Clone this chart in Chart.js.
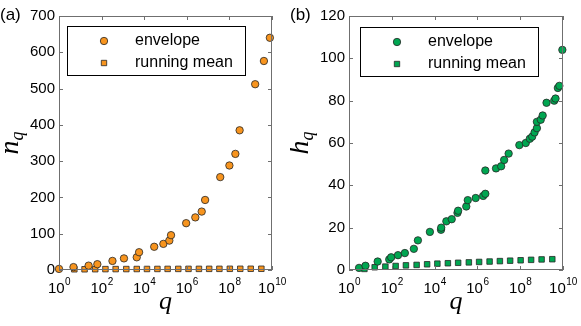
<!DOCTYPE html>
<html>
<head>
<meta charset="utf-8">
<script src="https://cdn.jsdelivr.net/npm/chart.js@4.4.1/dist/chart.umd.min.js"></script>
<style>
  html, body { margin: 0; padding: 0; background: #fff; }
  #wrap { position: relative; width: 581px; height: 326px; }
  canvas { position: absolute; top: 0; }
</style>
</head>
<body>
<div id="wrap">
  <canvas id="panelA" width="290" height="326" style="left:0"></canvas>
  <canvas id="panelB" width="291" height="326" style="left:290px"></canvas>
</div>
<script>
// x values are log10(q), the axis shows them as 10^k
const xTicks = [0, 2, 4, 6, 8, 10];

// (a) n_q
const logQEnvA = [0, 0.68, 1.39, 1.8, 2.51, 3.05, 3.65, 3.76, 4.47, 4.9, 5.18, 5.26, 5.97, 6.4, 6.7, 6.86, 7.57, 8.0, 8.28, 8.48, 9.21, 9.62, 9.9];
const nEnvelope = [3, 8, 12, 16, 25, 32, 35, 49, 64, 72, 81, 96, 129, 145, 161, 193, 256, 288, 320, 385, 512, 576, 640];

// running mean sampled every half decade (both panels)
const logQMean = [0.72, 1.2, 1.7, 2.18, 2.66, 3.16, 3.65, 4.13, 4.62, 5.1, 5.6, 6.08, 6.57, 7.05, 7.53, 8.02, 8.51, 9.0, 9.5];
const nMean = [2, 2, 2.2, 2.4, 2.5, 2.6, 2.7, 2.8, 2.9, 3, 3, 3.1, 3.1, 3.2, 3.2, 3.3, 3.3, 3.4, 3.4];

// (b) h_q
const logQEnvB = [0.47, 0.77, 1.34, 1.88, 1.97, 2.29, 2.61, 3.03, 3.22, 3.78, 4.3, 4.31, 4.55, 4.8, 5.07, 5.1, 5.48, 5.55, 5.92, 6.27, 6.37, 6.37, 6.87, 7.11, 7.25, 7.46, 7.96, 8.26, 8.45, 8.56, 8.67, 8.78, 8.78, 8.96, 9.05, 9.23, 9.59, 9.65, 9.76, 9.83, 9.97];
const hEnvelope = [1, 2, 4, 5, 6, 7, 8, 10, 14, 18, 19, 20, 23, 24, 27, 28, 30, 33, 34, 35, 36, 47, 48, 49, 52, 55, 59, 60, 62, 63, 65, 67, 70, 71, 73, 79, 80, 81, 86, 87, 104];
const hMean = [0.5, 1.3, 1.6, 1.9, 2.2, 2.4, 2.7, 3.0, 3.2, 3.4, 3.6, 3.8, 4.0, 4.2, 4.4, 4.6, 4.8, 5.0, 5.1];

const SANS = '"Liberation Sans", Arial, sans-serif';
const SERIF = '"Liberation Serif", "DejaVu Serif", serif';

const pts = (xs, ys) => xs.map((x, i) => ({ x: x, y: ys[i] }));

// box, inward ticks, 10^k labels, axis titles, legend
const decorPlugin = {
  id: 'decor',
  afterDatasetsDraw(chart, args, o) {
    const ctx = chart.ctx;
    const a = chart.chartArea;
    const xs = chart.scales.x, ys = chart.scales.y;
    ctx.save();

    ctx.strokeStyle = '#6f6f6f';
    ctx.lineWidth = 1;
    ctx.strokeRect(a.left + 0.5, a.top + 0.5, a.right - a.left - 1, a.bottom - a.top - 1);

    ctx.beginPath();
    xTicks.forEach(v => {
      const px = Math.round(xs.getPixelForValue(v)) + 0.5;
      ctx.moveTo(px, a.bottom); ctx.lineTo(px, a.bottom - 4);
      ctx.moveTo(px, a.top); ctx.lineTo(px, a.top + 4);
    });
    ys.ticks.forEach(t => {
      const py = Math.round(ys.getPixelForValue(t.value)) + 0.5;
      ctx.moveTo(a.left, py); ctx.lineTo(a.left + 4, py);
      ctx.moveTo(a.right, py); ctx.lineTo(a.right - 4, py);
    });
    ctx.stroke();

    // x tick labels as 10 with a superscript
    ctx.fillStyle = '#000';
    ctx.textBaseline = 'alphabetic';
    xTicks.forEach(v => {
      const px = xs.getPixelForValue(v);
      ctx.font = '15px ' + SANS;
      const wb = ctx.measureText('10').width;
      ctx.font = '10px ' + SANS;
      const ws = ctx.measureText(String(v)).width;
      const x0 = px - (wb + ws) / 2;
      ctx.font = '15px ' + SANS;
      ctx.textAlign = 'left';
      ctx.fillText('10', x0, a.bottom + 23);
      ctx.font = '10px ' + SANS;
      ctx.fillText(String(v), x0 + wb + 0.5, a.bottom + 15);
    });

    // axis titles
    ctx.font = 'italic 26px ' + SERIF;
    ctx.textAlign = 'center';
    ctx.fillText('q', (a.left + a.right) / 2, 309);

    ctx.save();
    ctx.translate(18, (a.top + a.bottom) / 2);
    ctx.rotate(-Math.PI / 2);
    ctx.font = 'italic 28px ' + SERIF;
    const wm = ctx.measureText(o.yName).width;
    ctx.font = 'italic 18px ' + SERIF;
    const wq = ctx.measureText('q').width;
    ctx.textAlign = 'left';
    ctx.font = 'italic 28px ' + SERIF;
    ctx.fillText(o.yName, -(wm + wq) / 2, 0);
    ctx.font = 'italic 18px ' + SERIF;
    ctx.fillText('q', -(wm + wq) / 2 + wm, 5);
    ctx.restore();

    // panel tag
    ctx.font = '17px ' + SANS;
    ctx.textAlign = 'left';
    ctx.textBaseline = 'middle';
    ctx.fillText(o.tag, 0, 15);

    // legend
    const lx = a.left + o.legX, ly = a.top + o.legY;
    ctx.fillStyle = '#fff';
    ctx.fillRect(lx, ly, 178, 49);
    ctx.strokeStyle = '#000';
    ctx.strokeRect(lx + 0.5, ly + 0.5, 178, 49);
    const rows = ['envelope', 'running mean'];
    rows.forEach((txt, i) => {
      const cy = ly + 15 + i * 22;
      const ds = chart.data.datasets[i];
      ctx.fillStyle = ds.backgroundColor;
      ctx.strokeStyle = ds.borderColor;
      ctx.lineWidth = 0.8;
      ctx.beginPath();
      if (i === 0) ctx.arc(lx + 37, cy, 3.7, 0, Math.PI * 2);
      else ctx.rect(lx + 37 - 2.7, cy - 2.7, 5.4, 5.4);
      ctx.fill(); ctx.stroke();
      ctx.fillStyle = '#000';
      ctx.font = '16px ' + SANS;
      ctx.fillText(txt, lx + 68, cy);
    });

    ctx.restore();
  }
};

function makePanel(id, env, mean, color, yMax, yStep, opts) {
  return new Chart(document.getElementById(id), {
    type: 'scatter',
    data: {
      datasets: [
        {
          label: 'envelope',
          data: env,
          backgroundColor: color,
          borderColor: '#262626',
          borderWidth: 0.8,
          pointStyle: 'circle',
          pointRadius: 3.7,
          clip: false,
        },
        {
          label: 'running mean',
          data: mean,
          backgroundColor: color,
          borderColor: '#262626',
          borderWidth: 0.8,
          pointStyle: 'rect',
          pointRadius: 3.9,
          clip: false,
        },
      ],
    },
    options: {
      responsive: false,
      animation: false,
      devicePixelRatio: 1,
      layout: { padding: { top: 16, right: 18, left: 0, bottom: 0 } },
      plugins: {
        legend: { display: false },
        tooltip: { enabled: false },
        decor: opts,
      },
      scales: {
        x: {
          type: 'linear',
          min: 0,
          max: 10,
          ticks: { display: false },
          grid: { display: false, drawTicks: false },
          border: { display: false },
          afterFit(s) { s.height = 56; },
        },
        y: {
          min: 0,
          max: yMax,
          ticks: { stepSize: yStep, color: '#000', padding: 4, font: { family: SANS, size: 15 } },
          grid: { display: false, drawTicks: false },
          border: { display: false },
          afterFit(s) { s.width = 59; },
        },
      },
    },
    plugins: [decorPlugin],
  });
}

makePanel('panelA', pts(logQEnvA, nEnvelope), pts(logQMean, nMean), '#f7941e', 700, 100,
  { tag: '(a)', yName: 'n', legX: 8, legY: 10 });
makePanel('panelB', pts(logQEnvB, hEnvelope), pts(logQMean, hMean), '#00a651', 120, 20,
  { tag: '(b)', yName: 'h', legX: 11, legY: 11 });
</script>
</body>
</html>
